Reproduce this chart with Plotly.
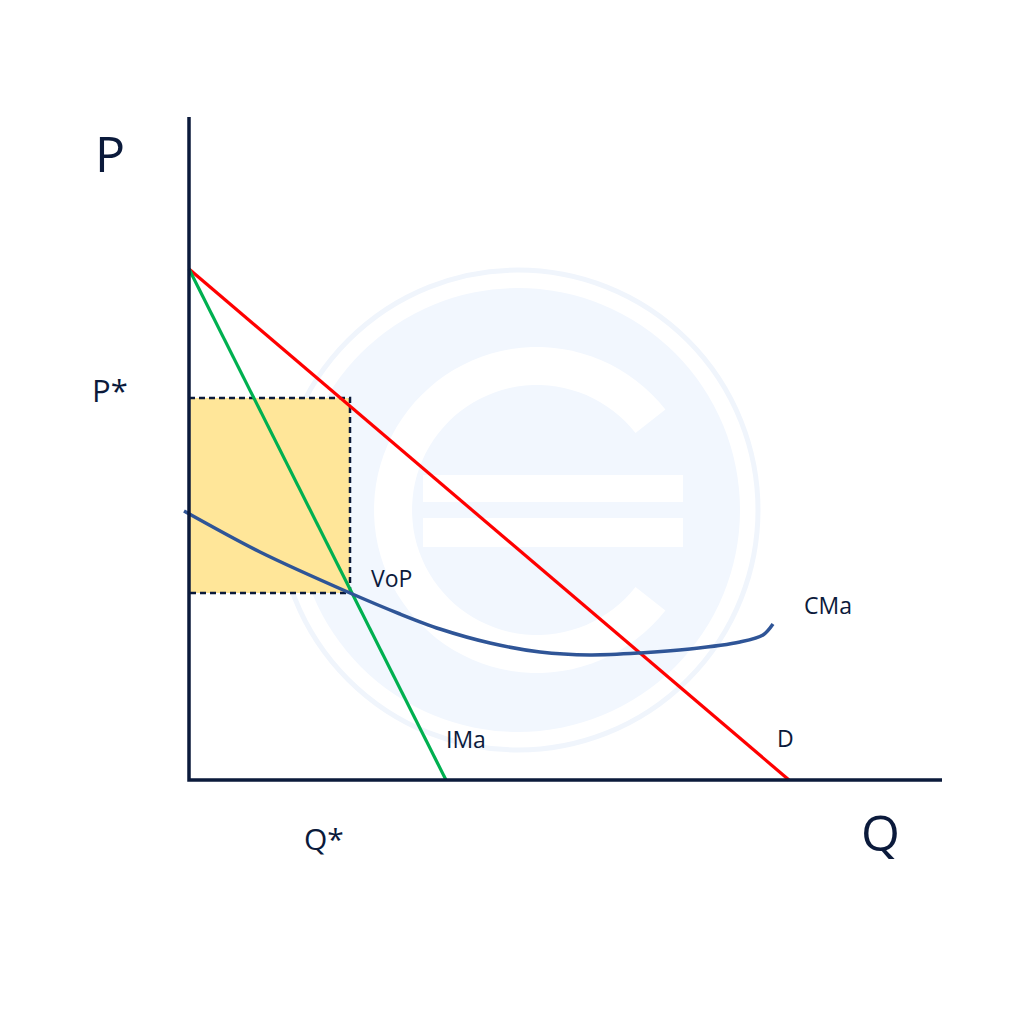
import numpy as np
import plotly.graph_objects as go

# ---- data (Q, P units; origin at axes corner) ----
axis_q_max = 753
axis_p_max = 663

demand_q = [0, 600]
demand_p = [511, 0]

mr_q = [0, 257]
mr_p = [511, 0]

mc_q = [-5, 71, 161, 211, 251, 301, 351, 401, 451, 501, 551, 574, 584]
mc_p = [269, 228, 187, 166, 151, 137, 128, 125, 127, 131, 138, 145, 156]

q_star = 161
p_star = 382
p_vop = 187

labels = ["P", "P*", "Q*", "Q", "VoP", "CMa", "IMa", "D"]

NAVY = "#0B1A3B"

fig = go.Figure()

# ---- faint watermark (decorative, below everything) ----
def px(x, y):
    return x - 189, 780 - y

cx, cy = 518, 510
shapes = []
x0, y0 = px(cx - 240, cy - 240); x1, y1 = px(cx + 240, cy + 240)
shapes.append(dict(type="circle", x0=x0, x1=x1, y0=y0, y1=y1, line=dict(color="#F0F5FC", width=5),
                   fillcolor="rgba(0,0,0,0)", layer="below"))
x0, y0 = px(cx - 222, cy - 222); x1, y1 = px(cx + 222, cy + 222)
shapes.append(dict(type="circle", x0=x0, x1=x1, y0=y0, y1=y1, line=dict(width=0),
                   fillcolor="#F2F7FE", layer="below"))
ccx, ccy = 537, 510
r_out, r_in = 163, 125
ang = np.linspace(np.radians(38), np.radians(322), 80)
outer = [px(ccx + r_out * np.cos(a), ccy - r_out * np.sin(a)) for a in ang]
inner = [px(ccx + r_in * np.cos(a), ccy - r_in * np.sin(a)) for a in ang[::-1]]
pts = outer + inner
path = "M " + " L ".join(f"{a:.1f},{b:.1f}" for a, b in pts) + " Z"
shapes.append(dict(type="path", path=path, fillcolor="white", line=dict(width=0), layer="below"))
for ya, yb in [(475, 502), (518, 547)]:
    x0, y0 = px(423, yb); x1, y1 = px(683, ya)
    shapes.append(dict(type="rect", x0=x0, x1=x1, y0=y0, y1=y1, fillcolor="white",
                       line=dict(width=0), layer="below"))

# ---- rectangle (profit area) ----
rect_q = [0, q_star, q_star, 0, 0]
rect_p = [p_vop, p_vop, p_star, p_star, p_vop]
fig.add_trace(go.Scatter(x=rect_q, y=rect_p, fill="toself", fillcolor="#FFE699",
                         line=dict(width=0), mode="lines", hoverinfo="skip"))
fig.add_trace(go.Scatter(x=[0, q_star, q_star, 0], y=[p_star, p_star, p_vop, p_vop],
                         mode="lines", line=dict(color=NAVY, width=2.5, dash="6px,4px"), hoverinfo="skip"))

# ---- curves ----
fig.add_trace(go.Scatter(x=demand_q, y=demand_p, mode="lines", line=dict(color="#FF0000", width=3.2)))
fig.add_trace(go.Scatter(x=mr_q, y=mr_p, mode="lines", line=dict(color="#00B050", width=3.2)))
fig.add_trace(go.Scatter(x=mc_q, y=mc_p, mode="lines",
                         line=dict(color="#2F5597", width=3.5, shape="spline", smoothing=0.9)))

# ---- axes ----
fig.add_trace(go.Scatter(x=[0, 0, axis_q_max], y=[axis_p_max, 0, 0], mode="lines",
                         line=dict(color=NAVY, width=3.5)))

font_family = "Open Sans"
ann = [
    (labels[0], -79, 627, 50),
    (labels[1], -79, 390, 31),
    (labels[2], 135, -58, 30),
    (labels[3], 691, -52, 50),
    (labels[4], 202, 202, 23),
    (labels[5], 639, 175, 23),
    (labels[6], 277, 41, 23),
    (labels[7], 596, 42, 23),
]
annotations = [dict(text=t, x=x, y=y, xref="x", yref="y", showarrow=False,
                    font=dict(family=font_family, size=s, color=NAVY),
                    xanchor="center", yanchor="middle") for t, x, y, s in ann]

fig.update_layout(
    width=1024, height=1024,
    margin=dict(l=0, r=0, t=0, b=0),
    paper_bgcolor="white", plot_bgcolor="white",
    showlegend=False,
    xaxis=dict(range=[-181, 843], visible=False, fixedrange=True),
    yaxis=dict(range=[-252, 772], visible=False, fixedrange=True),
    shapes=shapes,
    annotations=annotations,
)

fig.write_html("out.html")
